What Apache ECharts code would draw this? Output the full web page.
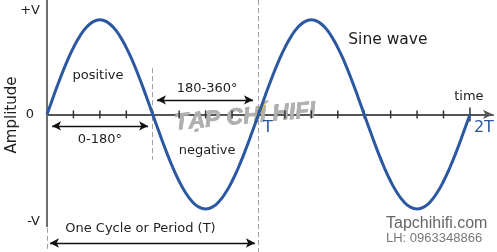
<!DOCTYPE html>
<html><head><meta charset="utf-8">
<script src="https://cdn.jsdelivr.net/npm/echarts@6/dist/echarts.min.js"></script>
<style>html,body{margin:0;padding:0;background:#fff;}#c{width:497px;height:252px;}</style>
</head><body><div id="c"></div>
<script>
// time in units of the period T (read every T/32)
const time = [0,0.03125,0.0625,0.09375,0.125,0.15625,0.1875,0.21875,0.25,0.28125,0.3125,0.34375,0.375,0.40625,0.4375,0.46875,
  0.5,0.53125,0.5625,0.59375,0.625,0.65625,0.6875,0.71875,0.75,0.78125,0.8125,0.84375,0.875,0.90625,0.9375,0.96875,
  1,1.03125,1.0625,1.09375,1.125,1.15625,1.1875,1.21875,1.25,1.28125,1.3125,1.34375,1.375,1.40625,1.4375,1.46875,
  1.5,1.53125,1.5625,1.59375,1.625,1.65625,1.6875,1.71875,1.75,1.78125,1.8125,1.84375,1.875,1.90625,1.9375,1.96875,2];
// amplitude in units of V
const amplitude = [0,0.195,0.383,0.556,0.707,0.831,0.924,0.981,1,0.981,0.924,0.831,0.707,0.556,0.383,0.195,
  0,-0.195,-0.383,-0.556,-0.707,-0.831,-0.924,-0.981,-1,-0.981,-0.924,-0.831,-0.707,-0.556,-0.383,-0.195,
  0,0.195,0.383,0.556,0.707,0.831,0.924,0.981,1,0.981,0.924,0.831,0.707,0.556,0.383,0.195,
  0,-0.195,-0.383,-0.556,-0.707,-0.831,-0.924,-0.981,-1,-0.981,-0.924,-0.831,-0.707,-0.556,-0.383,-0.195,0];
const tickTimes = [0.125,0.25,0.375,0.5,0.625,0.75,0.875,1,1.125,1.25,1.375,1.5,1.625,1.75,1.875];
const endTickTimes = [2];
const yLabelValues = [1.1, 0, -1.13];
const yLabelTexts = ['+V', '0', '-V'];

const annotations = [
  {name:'positive', value:[0.241, 0.407]},
  {name:'negative', value:[0.757, -0.386]},
  {name:'180-360°', value:[0.757, 0.27]},
  {name:'0-180°', value:[0.25, -0.27]},
  {name:'One Cycle or Period (T)', value:[0.442, -1.21]},
  {name:'Sine wave', value:[1.612, 0.788], big:true},
  {name:'time', value:[1.995, 0.185]},
  {name:'T', value:[1.045, -0.143], blue:true},
  {name:'2T', value:[2.066, -0.143], blue:true}
];

const BLUE = '#2b58a0';
const TEXT = '#1e1e1e';
const FONT = 'DejaVu Sans';
const dashed = {type:[5,3], color:'#a0a0a0', width:1};
const arrowStyle = {type:'solid', color:'#111', width:1.3};

const chart = echarts.init(document.getElementById('c'));
chart.setOption({
  animation:false,
  grid:{left:47, right:4, top:0, bottom:0},
  xAxis:{type:'value', min:0, max:2.109,
    axisLine:{show:true, onZero:true, lineStyle:{color:'#555', width:2}, symbol:['none','arrow'], symbolSize:[7,10]},
    axisTick:{show:false}, axisLabel:{show:false}, splitLine:{show:false}},
  yAxis:{type:'value', min:-1.455, max:1.21,
    axisLine:{show:false}, axisTick:{show:false}, splitLine:{show:false},
    axisLabel:{customValues:yLabelValues, margin:7, color:TEXT, fontSize:13, fontFamily:FONT,
      formatter:(v)=>{const i=yLabelValues.indexOf(v); return i===1 ? '{z|0}' : (i>=0?yLabelTexts[i]:'');},
      rich:{z:{fontSize:13, fontFamily:FONT, color:TEXT, padding:[0,6,0,0]}}}},
  graphic:[
    {type:'text', x:12, y:115, rotation:Math.PI/2, style:{text:'Amplitude', font:'15px "DejaVu Sans"', fill:TEXT, align:'center', verticalAlign:'middle'}},
    {type:'text', x:245, y:117, rotation:0.09, z:1, style:{text:'TẠP CHÍ HIFI', font:'italic bold 23px "Liberation Sans"', fill:'#b0b0b0', stroke:'#909090', lineWidth:0.6, align:'center', verticalAlign:'middle'}},
    {type:'line', z:2, shape:{x1:256, y1:119, x2:264, y2:104}, style:{stroke:'#f0c020', lineWidth:3}},
    {type:'text', x:386, y:224, style:{text:'Tapchihifi.com', font:'16px "Liberation Sans"', fill:'#666', align:'left', verticalAlign:'middle'}},
    {type:'text', x:386, y:238, style:{text:'LH: 0963348866', font:'13px "Liberation Sans"', fill:'#777', align:'left', verticalAlign:'middle'}}
  ],
  series:[
    {type:'line', name:'sine', data:time.map((t,i)=>[t, amplitude[i]]), smooth:true, showSymbol:false, z:5,
      lineStyle:{color:BLUE, width:3}, silent:true},
    {type:'scatter', name:'ticks', data:tickTimes.map(t=>[t,0]), symbol:'rect', symbolSize:[1.5,8], z:4,
      itemStyle:{color:'#333', opacity:1}, silent:true,
      markLine:{silent:true, symbol:['none','none'], label:{show:false}, animation:false,
        emphasis:{disabled:true},
        data:[
          [{coord:[0,1.21], lineStyle:{type:'solid', color:'#6e6e6e', width:2}}, {coord:[0,-1.19]}],
          [{coord:[0,-1.2], lineStyle:dashed}, {coord:[0,-1.455]}],
          [{coord:[0.5,0.49], lineStyle:dashed}, {coord:[0.5,-0.48]}],
          [{coord:[1,1.21], lineStyle:dashed}, {coord:[1,-1.455]}],
          [{coord:[0.024,-0.122], symbol:'arrow', symbolSize:[7,9], lineStyle:arrowStyle}, {coord:[0.478,-0.122], symbol:'arrow', symbolSize:[7,9]}],
          [{coord:[0.52,0.153], symbol:'arrow', symbolSize:[7,9], lineStyle:arrowStyle}, {coord:[0.974,0.153], symbol:'arrow', symbolSize:[7,9]}],
          [{coord:[0.014,-1.36], symbol:'arrow', symbolSize:[7,9], lineStyle:arrowStyle}, {coord:[0.983,-1.36], symbol:'arrow', symbolSize:[7,9]}]
        ]}},
    {type:'scatter', name:'endTick', data:endTickTimes.map(t=>[t,0]), symbol:'rect', symbolSize:[1.5,14], z:4,
      itemStyle:{color:'#333', opacity:1}, silent:true},
    {type:'scatter', name:'labels', symbolSize:0, z:6, silent:true, itemStyle:{color:TEXT, opacity:1},
      label:{show:true, position:'inside', formatter:'{b}', color:TEXT, opacity:1, fontSize:13, fontFamily:FONT, textBorderWidth:0},
      data:annotations.map(a=>({name:a.name, value:a.value,
        label: a.blue ? {color:BLUE, fontSize:16} : (a.big ? {fontSize:15.5} : {})}))}
  ]
});
</script></body></html>
